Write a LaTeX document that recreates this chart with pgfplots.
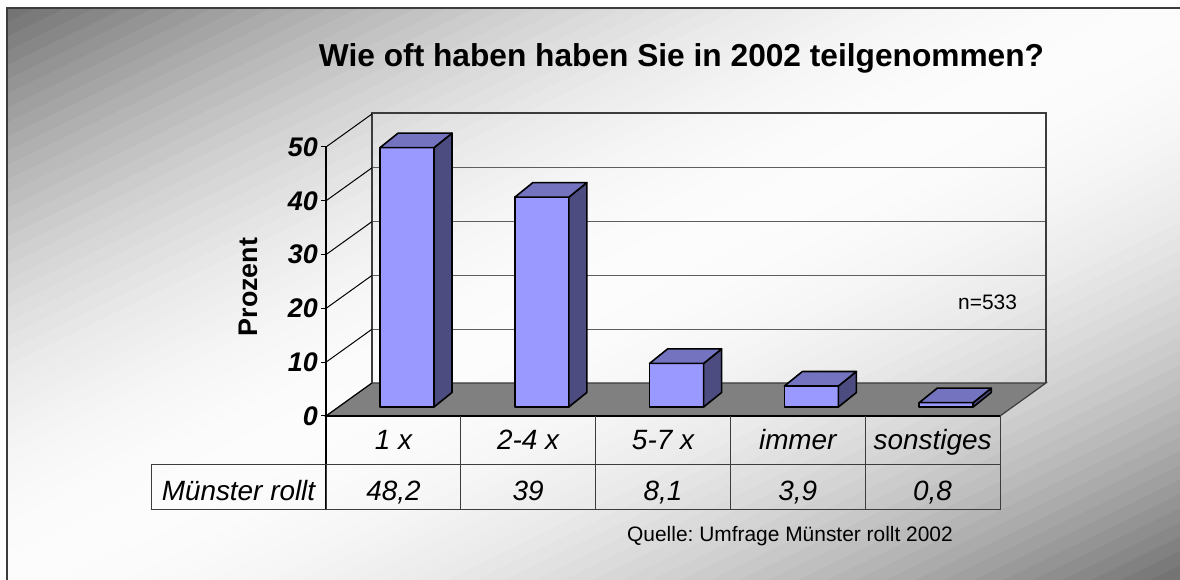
\documentclass[border=0pt]{standalone}
\usepackage{pgfplots}
\pgfplotsset{compat=1.18}
\usepackage{pgfplotstable}
\usepackage{fontspec}
\setmainfont{Liberation Sans}
\frenchspacing

\definecolor{barfront}{HTML}{9999FF}
\definecolor{bartop}{HTML}{7373BF}
\definecolor{barside}{HTML}{4C4C80}
\definecolor{floorgray}{HTML}{808080}
\definecolor{gridgray}{HTML}{5E5E5E}
\definecolor{linegray}{HTML}{3C3C3C}

% Teilnahmehaeufigkeit in Prozent
\pgfplotstableread{
x v
0 48.2
1 39
2 8.1
3 3.9
4 0.8
}\teilnahme

\begin{document}
\begin{tikzpicture}[x=1bp,y=1bp]
\useasboundingbox (0,0) rectangle (1180,580);
\fill[white] (0,0) rectangle (1180,580);

% Hintergrund: diagonaler Verlauf
\begin{scope}
  \clip (7,0) rectangle (1180,572);
  \begin{scope}[shift={(7,0)},xscale=1173,yscale=572]
    \foreach \i in {0,...,79}{
      \pgfmathsetmacro\t{-1+\i*0.025}
      \pgfmathsetmacro\fm{\t+0.0125}
      \pgfmathsetmacro\g{max(0,min(1,(252-140*\fm*\fm)/255))}
      \definecolor{strip}{gray}{\g}
      \fill[strip] (\t-1,-1) -- (\t-1+0.027,-1) -- (\t+2.027,2) -- (\t+2,2) -- cycle;
    }
  \end{scope}
\end{scope}
\draw[line width=2, linegray] (7,0) -- (7,572) -- (1181,572);

% Boden
\filldraw[fill=floorgray, draw=linegray, line width=1.2] (326,164) -- (1000,164) -- (1046,197) -- (372,197) -- cycle;
% Rueckwand + Gitter
\foreach \k in {1,...,4}{
  \draw[gridgray, line width=1.3] (372,197+53.8*\k) -- (1046,197+53.8*\k);
}
\draw[linegray, line width=1.5] (372,197) -- (372,467) -- (1046,467) -- (1046,197);
\foreach \k in {0,...,5}{
  \draw[black, line width=1] (326,164+53.8*\k) -- (372,197+53.8*\k);
}
\draw[black, line width=1.2] (326,70) -- (326,433);

\begin{axis}[
  at={(326bp,164bp)}, anchor=south west,
  x=134.8bp, y=5.38bp,
  xmin=-0.5, xmax=4.5, ymin=0, ymax=50,
  axis line style={draw=none},
  xtick=\empty,
  ytick={0,10,...,50},
  ytick pos=left,
  tick align=outside,
  major tick length=5bp,
  tick style={black, line width=1bp},
  /pgf/number format/assume math mode=true,
  yticklabel style={font=\fontsize{27}{27}\selectfont\bfseries\itshape, text=black, inner sep=3bp},
  clip=false,
]
\addplot[
  scatter, only marks, mark=text, text mark={},
  visualization depends on={y \as \val},
  scatter/@pre marker code/.code={%
    \pgfkeys{/pgf/fpu=false}%
    \pgfmathsetmacro\yb{9-\val*5.38}%
    \pgfmathsetmacro\ybb{\yb+14.5}%
    \filldraw[fill=barfront, draw=black, line width=1.6bp, line join=round]
      (-13.4bp,\yb bp) rectangle (40.6bp,9bp);
    \filldraw[fill=barside, draw=black, line width=1.6bp, line join=round]
      (40.6bp,\yb bp) -- (58.6bp,\ybb bp) -- (58.6bp,23.5bp) -- (40.6bp,9bp) -- cycle;
    \filldraw[fill=bartop, draw=black, line width=1.6bp, line join=round]
      (-13.4bp,9bp) -- (40.6bp,9bp) -- (58.6bp,23.5bp) -- (4.6bp,23.5bp) -- cycle;
  },
  scatter/@post marker code/.code={},
] table[x=x, y=v] {\teilnahme};
\end{axis}

% Boden-Vorderkante
\draw[black, line width=2.5] (326,164) -- (1000,164);

% Datentabelle
\begin{scope}[linegray, line width=1]
  \foreach \xx in {460.8,595.6,730.4,865.2,1000}{
    \draw (\xx,70) -- (\xx,164);
  }
  \draw (151,70) rectangle (326,115);
  \draw (151,115) -- (1000,115);
  \draw (151,70) -- (1000,70);
\end{scope}
\begin{scope}[font=\fontsize{28}{28}\selectfont\itshape]
  \node[anchor=base] at (393.4,130) {1 x};
  \node[anchor=base] at (528.2,130) {2-4 x};
  \node[anchor=base] at (663.0,130) {5-7 x};
  \node[anchor=base] at (797.8,130) {immer};
  \node[anchor=base] at (932.6,130) {sonstiges};
  \node[anchor=base] at (238.5,79) {Münster rollt};
  \node[anchor=base] at (393.4,79) {48,2};
  \node[anchor=base] at (528.2,79) {39};
  \node[anchor=base] at (663.0,79) {8,1};
  \node[anchor=base] at (797.8,79) {3,9};
  \node[anchor=base] at (932.6,79) {0,8};
\end{scope}

% Texte
\node[anchor=base, font=\fontsize{31.8}{32}\selectfont\bfseries] at (681.5,513) {Wie oft haben haben Sie in 2002 teilgenommen?};
\node[anchor=base, rotate=90, font=\fontsize{27}{27}\selectfont\bfseries] at (257,293) {Prozent};
\node[anchor=base west, inner sep=0, font=\fontsize{21}{21}\selectfont] at (958,270.5) {n=533};
\node[anchor=base west, inner sep=0, font=\fontsize{21}{21}\selectfont] at (627,38.3) {Quelle: Umfrage Münster rollt 2002};
\end{tikzpicture}
\end{document}
